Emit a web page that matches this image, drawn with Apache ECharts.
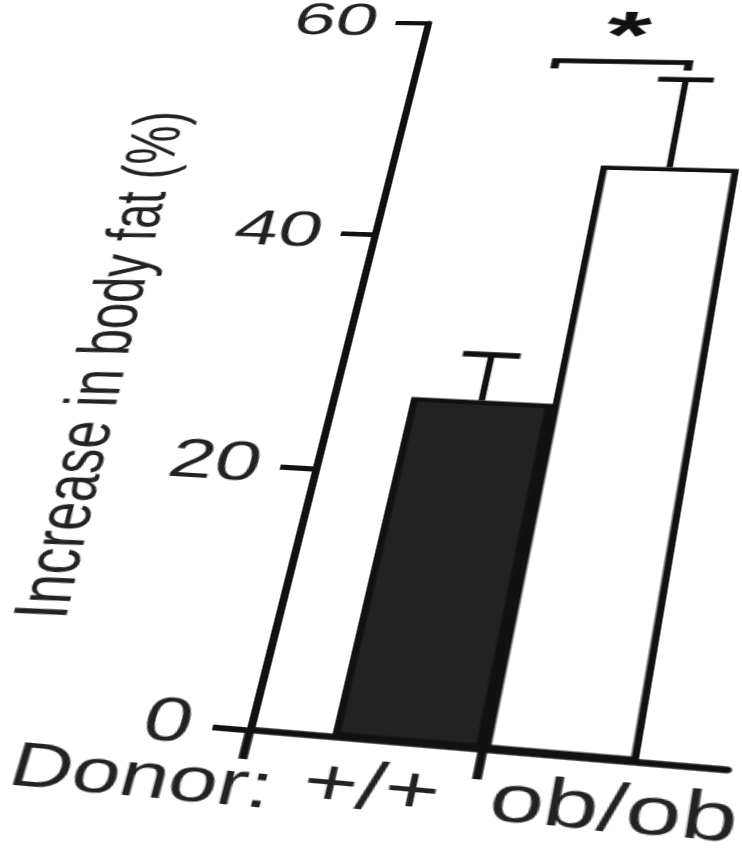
<!DOCTYPE html>
<html><head><meta charset="utf-8">
<script src="https://cdn.jsdelivr.net/npm/echarts@6/dist/echarts.min.js"></script>
<style>
html,body{margin:0;padding:0;width:742px;height:851px;overflow:hidden;background:#fff;}
#chart{position:absolute;left:0;top:0;width:742px;height:851px;transform-origin:0 0;}
</style></head><body>
<div id="chart"></div>
<script>
// ---------------- data ----------------
const categories = ['+/+', 'ob/ob'];
const donorLabel = 'Donor:';
const meanValues = [26.2, 46.8];
const semValues = [3.8, 8.1];
const yTicks = [0, 20, 40, 60];
const yAxisTitle = 'Increase in body fat (%)';
const sigPair = [0, 1];
const sigLevel = 56.5;
const sigMark = '*';
const xTickAtCategoryStart = [0, 1];   // x-axis ticks drawn at the left boundary of these categories

// ---------------- style / layout ----------------
const FONT = 'Liberation Sans';
const INK = '#111';
const TEXT = '#222';
const barFill = ['#222222', '#ffffff'];
const BAR_W = 90;
const BAR_GAP = -0.444;          // fraction of bar width
const CAP_W = 37;
const LEG = 9;
const X_TICK_LEN = 25;
const positionOrder = [1, 0];    // category shown in left / right slot position
const GRID = {left: 200, right: 262, top: 30, bottom: 101};

function centerOffset(cat) {
  const pos = positionOrder.indexOf(cat);
  const half = (BAR_W + BAR_GAP * BAR_W) / 2;
  return pos === 0 ? -half : half;
}

const barSeries = positionOrder.map(function (cat) {
  return {
    type: 'bar',
    name: categories[cat],
    data: categories.map(function (c, i) { return i === cat ? meanValues[i] : '-'; }),
    barWidth: BAR_W,
    barGap: (BAR_GAP * 100) + '%',
    itemStyle: {color: barFill[cat], borderColor: INK, borderWidth: 4.5},
    z: 2
  };
});

const errSeries = {
  type: 'custom',
  data: categories.map(function (c, i) { return [i, meanValues[i], semValues[i]]; }),
  encode: {x: 0, y: [1, 2]},
  clip: false,
  z: 3,
  renderItem: function (params, api) {
    const i = api.value(0), m = api.value(1), s = api.value(2);
    const base = api.coord([i, m]);
    const top = api.coord([i, m + s]);
    const x = base[0] + centerOffset(i);
    return {type: 'group', children: [
      {type: 'line', shape: {x1: x, y1: base[1], x2: x, y2: top[1]}, style: {stroke: INK, lineWidth: 4.2}},
      {type: 'line', shape: {x1: x - CAP_W / 2, y1: top[1], x2: x + CAP_W / 2, y2: top[1]}, style: {stroke: INK, lineWidth: 5.5}}
    ]};
  }
};

const sigSeries = {
  type: 'custom',
  data: [[sigPair[0], sigPair[1], sigLevel]],
  encode: {x: [0, 1], y: 2},
  clip: false,
  z: 3,
  renderItem: function (params, api) {
    const a = api.value(0), b = api.value(1), lv = api.value(2);
    const pa = api.coord([a, lv]);
    const pb = api.coord([b, lv]);
    const xa = pa[0] + centerOffset(a);
    const xb = pb[0] + centerOffset(b);
    const y = pa[1];
    return {type: 'group', children: [
      {type: 'polyline', shape: {points: [[xa, y + LEG], [xa, y], [xb, y], [xb, y + LEG]]},
       style: {stroke: INK, lineWidth: 5.5, fill: null}},
      {type: 'text', style: {text: sigMark, x: (xa + xb) / 2, y: y - 26, align: 'center', verticalAlign: 'middle',
        font: 'bold 78px "' + FONT + '"', fill: INK}}
    ]};
  }
};

const xTickSeries = {
  type: 'custom',
  data: xTickAtCategoryStart.map(function (i) { return [i, 0]; }),
  encode: {x: 0, y: 1},
  clip: false,
  z: 4,
  renderItem: function (params, api) {
    const c = api.coord([api.value(0), api.value(1)]);
    const band = api.size([1, 0])[0];
    const x = c[0] - band / 2;
    return {type: 'line', shape: {x1: x, y1: c[1], x2: x, y2: c[1] + X_TICK_LEN},
      style: {stroke: INK, lineWidth: 5.5}};
  }
};

const chart = echarts.init(document.getElementById('chart'), null, {renderer: 'canvas'});
chart.setOption({
  animation: false,
  backgroundColor: '#fff',
  grid: Object.assign({containLabel: false, outerBoundsMode: 'none'}, GRID),
  xAxis: {
    type: 'category',
    data: categories,
    axisLine: {lineStyle: {color: INK, width: 5.5}},
    axisTick: {show: false},
    axisLabel: {fontSize: 56, color: TEXT, margin: 14, fontFamily: FONT, interval: 0, hideOverlap: false, padding: [0, 0, 0, 20]},
    name: donorLabel,
    nameLocation: 'start',
    nameGap: -22,
    nameMoveOverlap: false,
    nameTextStyle: {fontSize: 54, color: TEXT, fontFamily: FONT, align: 'right', verticalAlign: 'top', padding: [22, 0, 0, 0]}
  },
  yAxis: {
    type: 'value',
    min: yTicks[0],
    max: yTicks[yTicks.length - 1],
    interval: yTicks[1] - yTicks[0],
    axisLine: {show: true, lineStyle: {color: INK, width: 5}},
    axisTick: {show: true, length: 23, lineStyle: {color: INK, width: 5}},
    axisLabel: {fontSize: 54, color: TEXT, margin: 36, fontFamily: FONT},
    splitLine: {show: false},
    name: yAxisTitle,
    nameLocation: 'middle',
    nameGap: 134,
    nameRotate: 92.5,
    nameMoveOverlap: false,
    nameTextStyle: {fontSize: 50, color: TEXT, fontFamily: FONT, align: 'center', verticalAlign: 'bottom', padding: [0, 24, 0, 0]}
  },
  series: barSeries.concat([errSeries, sigSeries, xTickSeries])
});

// ------- page warp: the reference photo is seen in perspective -------
function solve(A, b) {
  const n = b.length;
  const M = A.map(function (row, i) { return row.concat([b[i]]); });
  for (let c = 0; c < n; c++) {
    let p = c;
    for (let r = c + 1; r < n; r++) if (Math.abs(M[r][c]) > Math.abs(M[p][c])) p = r;
    const t = M[c]; M[c] = M[p]; M[p] = t;
    for (let r = 0; r < n; r++) {
      if (r === c) continue;
      const f = M[r][c] / M[c][c];
      for (let k = c; k <= n; k++) M[r][k] -= f * M[c][k];
    }
  }
  return M.map(function (row, i) { return row[n] / row[i]; });
}
const L = GRID.left, R = 742 - GRID.right, T = GRID.top, B = 851 - GRID.bottom;
const src = [[L, B], [L, T], [R, B], [R, T]];
const dst = [[250, 730], [428, 23], [727, 770], [839, 28]];
const A = [], bb = [];
for (let i = 0; i < 4; i++) {
  const x = src[i][0], y = src[i][1], u = dst[i][0], v = dst[i][1];
  A.push([x, y, 1, 0, 0, 0, -u * x, -u * y]); bb.push(u);
  A.push([0, 0, 0, x, y, 1, -v * x, -v * y]); bb.push(v);
}
const h = solve(A, bb);
document.getElementById('chart').style.transform =
  'matrix3d(' + [h[0], h[3], 0, h[6], h[1], h[4], 0, h[7], 0, 0, 1, 0, h[2], h[5], 0, 1].join(',') + ')';
</script>
</body></html>
